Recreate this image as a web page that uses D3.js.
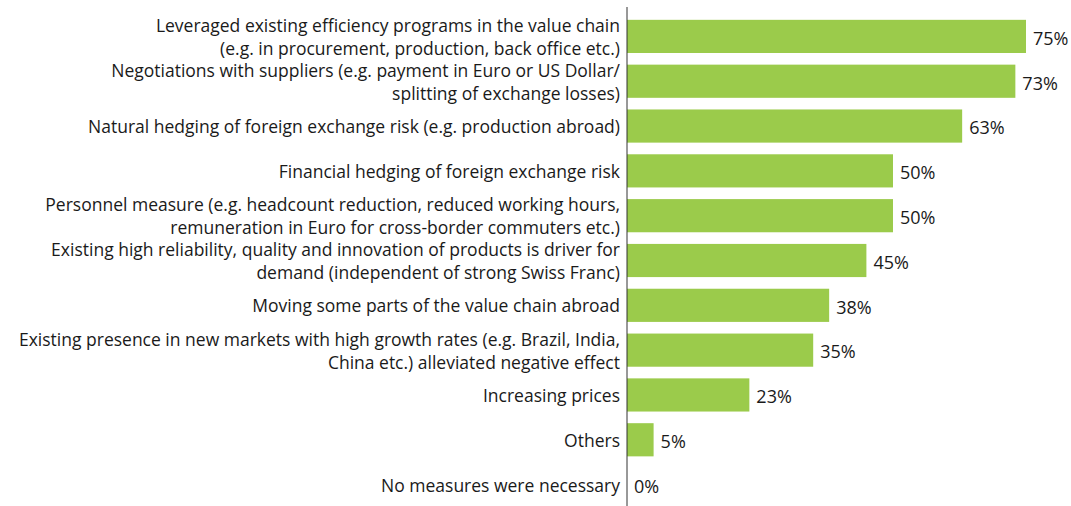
<!DOCTYPE html>
<html>
<head>
<meta charset="utf-8">
<script src="https://cdn.jsdelivr.net/npm/d3@7"></script>
<style>
  body { margin: 0; background: #fff; }
  svg text { font-family: "Open Sans", "Noto Sans", sans-serif; fill: #1a1a1a; }
</style>
</head>
<body>
<svg width="1071" height="506"></svg>
<script>
const categories = [
  ["Leveraged existing efficiency programs in the value chain", "(e.g. in procurement, production, back office etc.)"],
  ["Negotiations with suppliers (e.g. payment in Euro or US Dollar/", "splitting of exchange losses)"],
  ["Natural hedging of foreign exchange risk (e.g. production abroad)"],
  ["Financial hedging of foreign exchange risk"],
  ["Personnel measure (e.g. headcount reduction, reduced working hours,", "remuneration in Euro for cross-border commuters etc.)"],
  ["Existing high reliability, quality and innovation of products is driver for", "demand (independent of strong Swiss Franc)"],
  ["Moving some parts of the value chain abroad"],
  ["Existing presence in new markets with high growth rates (e.g. Brazil, India,", "China etc.) alleviated negative effect"],
  ["Increasing prices"],
  ["Others"],
  ["No measures were necessary"]
];
const values = [75, 73, 63, 50, 50, 45, 38, 35, 23, 5, 0];
const valueLabels = ["75%", "73%", "63%", "50%", "50%", "45%", "38%", "35%", "23%", "5%", "0%"];

const svg = d3.select("svg");
const axisX = 627;
const plotTop = 14, plotBottom = 507;

const x = d3.scaleLinear().domain([0, 75]).range([axisX, 1026]);
const y = d3.scaleBand()
  .domain(d3.range(categories.length))
  .range([plotTop, plotBottom])
  .paddingInner(0.26)
  .paddingOuter(0.13);

const rows = svg.append("g").selectAll("g")
  .data(values.map((v, i) => ({ v, i, label: categories[i], text: valueLabels[i] })))
  .join("g");

rows.append("rect")
  .attr("x", x(0))
  .attr("y", d => y(d.i))
  .attr("width", d => x(d.v) - x(0))
  .attr("height", y.bandwidth())
  .attr("fill", "#9bcb4b");

rows.append("text")
  .attr("x", d => x(d.v) + 7)
  .attr("y", d => y(d.i) + y.bandwidth() / 2 + 2)
  .attr("dy", "0.35em")
  .attr("font-size", 18)
  .text(d => d.text);

const lineH = 23;
rows.append("text")
  .attr("text-anchor", "end")
  .attr("font-size", 17.5)
  .each(function (d) {
    const t = d3.select(this);
    const n = d.label.length;
    const cy = y(d.i) + y.bandwidth() / 2 + 1;
    d.label.forEach((s, k) => {
      t.append("tspan")
        .attr("x", axisX - 7)
        .attr("y", cy + (k - (n - 1) / 2) * lineH)
        .attr("dy", "0.35em")
        .text(s);
    });
  });

svg.append("line")
  .attr("x1", axisX).attr("x2", axisX)
  .attr("y1", 7).attr("y2", 506)
  .attr("stroke", "#333")
  .attr("stroke-width", 1);
</script>
</body>
</html>
